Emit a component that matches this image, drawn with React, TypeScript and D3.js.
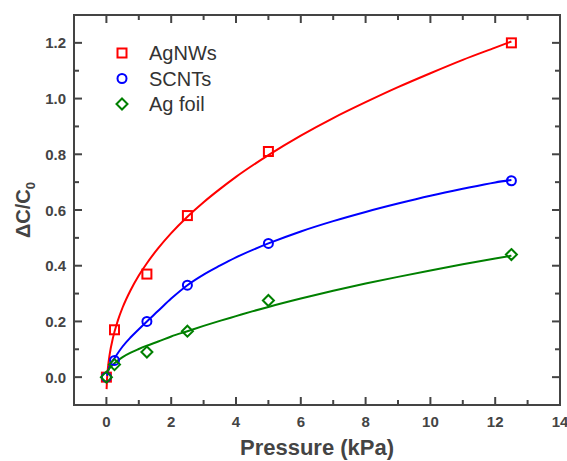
import React from 'react';
import * as d3 from 'd3';

const pressure = [0, 0.25, 1.25, 2.5, 5, 12.5];
const agnws = [0, 0.17, 0.37, 0.58, 0.81, 1.2];
const scnts = [0, 0.06, 0.2, 0.33, 0.48, 0.705];
const agfoil = [0, 0.045, 0.09, 0.165, 0.275, 0.44];

// fitted curves
const fitAgnwsX = [0.006, 0.02, 0.05, 0.1, 0.2, 0.35, 0.5, 0.75, 1.0, 1.25, 1.6, 2.0, 2.5, 3.0, 3.5, 4.0, 5, 6, 7, 8, 9, 10, 11, 12, 12.5];
const fitAgnwsY = [-0.043, -0.006, 0.036, 0.081, 0.14, 0.202, 0.25, 0.313, 0.365, 0.409, 0.463, 0.517, 0.576, 0.628, 0.675, 0.719, 0.797, 0.867, 0.93, 0.987, 1.041, 1.091, 1.139, 1.183, 1.205];
const fitScntsX = [0.02, 0.1, 0.25, 0.5, 0.75, 1.0, 1.25, 1.6, 2.0, 2.5, 3.0, 3.5, 4.0, 5, 6, 7, 8, 9, 10, 11, 12, 12.5];
const fitScntsY = [0.005, 0.04, 0.068, 0.11, 0.143, 0.172, 0.2, 0.238, 0.282, 0.33, 0.368, 0.4, 0.43, 0.48, 0.523, 0.56, 0.593, 0.623, 0.651, 0.676, 0.699, 0.708];
const fitFoilX = [0.0, 0.1, 0.25, 0.5, 0.75, 1.0, 1.25, 1.6, 2.0, 2.5, 3.0, 3.5, 4.0, 4.5, 5, 6, 7, 8, 9, 10, 11, 12, 12.5];
const fitFoilY = [0.015, 0.032, 0.05, 0.072, 0.088, 0.101, 0.113, 0.128, 0.146, 0.165, 0.184, 0.202, 0.219, 0.236, 0.252, 0.282, 0.31, 0.336, 0.36, 0.383, 0.405, 0.426, 0.436];

const xMajor = [0, 2, 4, 6, 8, 10, 12, 14];
const xMinor = [-1, 1, 3, 5, 7, 9, 11, 13];
const yMajor = [0, 0.2, 0.4, 0.6, 0.8, 1.0, 1.2];
const yMinor = [-0.1, 0.1, 0.3, 0.5, 0.7, 0.9, 1.1, 1.3];

const seriesNames = ['AgNWs', 'SCNTs', 'Ag foil'];
const seriesColors = ['#ff0000', '#0000ff', '#008000'];

const W = 567, H = 461;
const L = 74, R = 560, T = 15, B = 405;

export default function App() {
  const x = d3.scaleLinear().domain([-1, 14]).range([L, R]);
  const y = d3.scaleLinear().domain([-0.1, 1.3]).range([B, T]);
  const line = d3.line<[number, number]>().x(d => x(d[0])).y(d => y(d[1])).curve(d3.curveMonotoneX);

  const fits = [
    fitAgnwsX.map((v, i) => [v, fitAgnwsY[i]] as [number, number]),
    fitScntsX.map((v, i) => [v, fitScntsY[i]] as [number, number]),
    fitFoilX.map((v, i) => [v, fitFoilY[i]] as [number, number]),
  ];
  const pts = [agnws, scnts, agfoil];

  const marker = (k: number, cx: number, cy: number, key: string) => {
    const c = seriesColors[k];
    if (k === 0) return <rect key={key} x={cx - 4.5} y={cy - 4.5} width={9} height={9} fill="none" stroke={c} strokeWidth={2} />;
    if (k === 1) return <circle key={key} cx={cx} cy={cy} r={4.5} fill="none" stroke={c} strokeWidth={2} />;
    return <path key={key} d={`M${cx},${cy - 5.5}L${cx + 5.5},${cy}L${cx},${cy + 5.5}L${cx - 5.5},${cy}Z`} fill="none" stroke={c} strokeWidth={2} />;
  };

  const axisColor = '#444';
  const font = 'Liberation Sans, Arial, sans-serif';

  return (
    <svg width={W} height={H} style={{ position: 'absolute', left: 0, top: 0, background: 'white' }}>
      <rect x={0} y={0} width={W} height={H} fill="white" />
      {fits.map((f, k) => (
        <path key={'f' + k} d={line(f) || ''} fill="none" stroke={seriesColors[k]} strokeWidth={2} />
      ))}
      {pts.map((s, k) => s.map((v, i) => marker(k, x(pressure[i]), y(v), `m${k}-${i}`)))}

      <rect x={L} y={T} width={R - L} height={B - T} fill="none" stroke={axisColor} strokeWidth={2} />
      {xMajor.map(v => (
        <g key={'xm' + v}>
          <line x1={x(v)} x2={x(v)} y1={B} y2={B - 8} stroke={axisColor} strokeWidth={2} />
          <line x1={x(v)} x2={x(v)} y1={T} y2={T + 8} stroke={axisColor} strokeWidth={2} />
          <text x={x(v)} y={427} textAnchor="middle" fontFamily={font} fontWeight="bold" fontSize={15} fill={axisColor}>{v}</text>
        </g>
      ))}
      {xMinor.map(v => (
        <g key={'xn' + v}>
          <line x1={x(v)} x2={x(v)} y1={B} y2={B - 5} stroke={axisColor} strokeWidth={2} />
          <line x1={x(v)} x2={x(v)} y1={T} y2={T + 5} stroke={axisColor} strokeWidth={2} />
        </g>
      ))}
      {yMajor.map(v => (
        <g key={'ym' + v}>
          <line x1={L} x2={L + 8} y1={y(v)} y2={y(v)} stroke={axisColor} strokeWidth={2} />
          <line x1={R} x2={R - 8} y1={y(v)} y2={y(v)} stroke={axisColor} strokeWidth={2} />
          <text x={66} y={y(v) + 5.5} textAnchor="end" fontFamily={font} fontWeight="bold" fontSize={15} fill={axisColor}>{v.toFixed(1)}</text>
        </g>
      ))}
      {yMinor.map(v => (
        <g key={'yn' + v}>
          <line x1={L} x2={L + 5} y1={y(v)} y2={y(v)} stroke={axisColor} strokeWidth={2} />
          <line x1={R} x2={R - 5} y1={y(v)} y2={y(v)} stroke={axisColor} strokeWidth={2} />
        </g>
      ))}

      <text x={(L + R) / 2} y={455} textAnchor="middle" fontFamily={font} fontWeight="bold" fontSize={22} fill={axisColor}>Pressure (kPa)</text>
      <text transform={`translate(30,${(T + B) / 2}) rotate(-90)`} textAnchor="middle" fontFamily={font} fontWeight="bold" fontSize={20} fill={axisColor}>
        ΔC/C<tspan fontSize={13} dy={5}>0</tspan>
      </text>

      {seriesNames.map((n, k) => (
        <g key={'lg' + k}>
          {marker(k, 122, 53 + k * 25.5, 'lm' + k)}
          <text x={149} y={53 + k * 25.5 + 7} fontFamily={font} fontSize={20} fill="#333">{n}</text>
        </g>
      ))}
    </svg>
  );
}
